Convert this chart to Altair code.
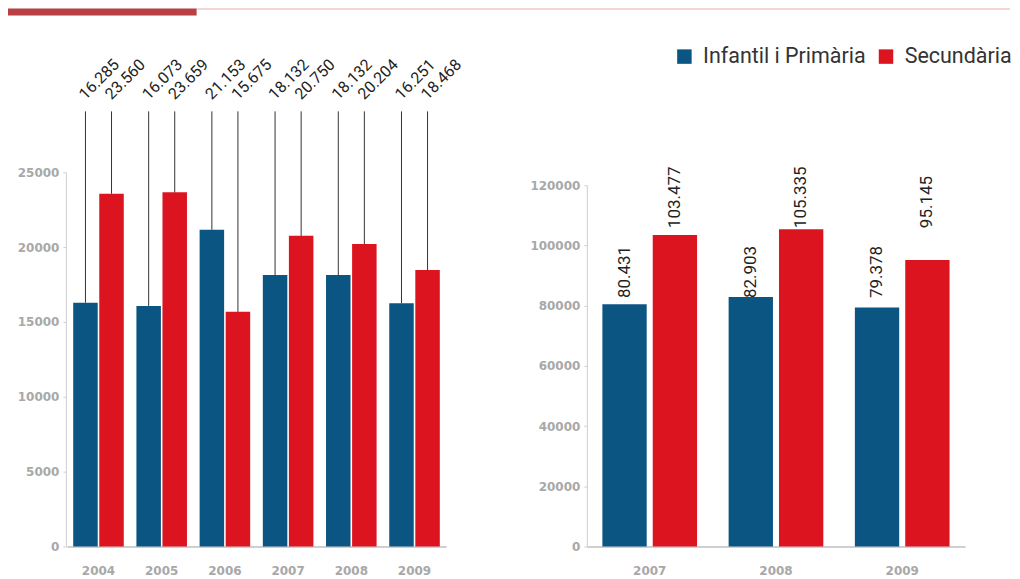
import altair as alt
import pandas as pd

# ---- data ----
series = ["Infantil i Primària", "Secundària"]
years_a = ["2004", "2005", "2006", "2007", "2008", "2009"]
infantil_a = [16285, 16073, 21153, 18132, 18132, 16251]
secundaria_a = [23560, 23659, 15675, 20750, 20204, 18468]

years_b = ["2007", "2008", "2009"]
infantil_b = [80431, 82903, 79378]
secundaria_b = [103477, 105335, 95145]

yticks_a = [0, 5000, 10000, 15000, 20000, 25000]
yticks_b = [0, 20000, 40000, 60000, 80000, 100000, 120000]

BLUE = "#0b5583"
RED = "#dc1420"
FONT = "Roboto"


def fmt(v):
    return f"{v:,}".replace(",", ".")


def table(years, a, b):
    rows = []
    for y, va, vb in zip(years, a, b):
        rows.append({"year": y, "serie": series[0], "value": va, "label": fmt(va)})
        rows.append({"year": y, "serie": series[1], "value": vb, "label": fmt(vb)})
    return pd.DataFrame(rows)


df_a = table(years_a, infantil_a, secundaria_a)
df_b = table(years_b, infantil_b, secundaria_b)

color = alt.Color(
    "serie:N",
    scale=alt.Scale(domain=series, range=[BLUE, RED]),
    legend=alt.Legend(
        title=None, orient="none", legendX=667, legendY=37, direction="horizontal",
        symbolType="square", symbolSize=210, symbolStrokeWidth=0, symbolOpacity=1,
        labelFont=FONT, labelFontSize=21.5, labelColor="#333333", labelOffset=8,
        columnPadding=9, padding=0, labelLimit=300,
    ),
)

axis_y_common = dict(
    title=None, labelColor="#a8a8a8", labelFont="DejaVu Sans", labelFontSize=12,
    labelFontWeight="bold", domainColor="#d0d0d0", tickColor="#d0d0d0", tickSize=3,
    labelPadding=4, grid=False, orient="left", format="d",
)
axis_x_common = dict(
    title=None, labelColor="#a8a8a8", labelFont="DejaVu Sans", labelFontSize=12,
    labelFontWeight="bold", domainColor="#a0a0a0", ticks=False, labelPadding=19,
    labelAngle=0, grid=False, orient="bottom",
)

# ---- left chart ----
xa = alt.X("year:N", sort=years_a,
           scale=alt.Scale(range=[59, 439], paddingInner=0.2, paddingOuter=0.1),
           axis=alt.Axis(**axis_x_common))
ya = alt.Y("value:Q", scale=alt.Scale(domain=[0, 25000], range=[539, 164], nice=False),
           axis=alt.Axis(values=yticks_a, offset=-58, **axis_y_common))
xoa = alt.XOffset("serie:N", sort=series, scale=alt.Scale(paddingInner=0.06))

base_a = alt.Chart(df_a)
bars_a = base_a.mark_bar().encode(x=xa, xOffset=xoa, y=ya, color=color)
rules_a = base_a.mark_rule(color="#333333", strokeWidth=1).encode(
    x=xa, xOffset=xoa, y=ya, y2=alt.value(103))
text_a = base_a.mark_text(angle=315, align="left", baseline="alphabetic",
                          font=FONT, fontSize=16, color="#222222").encode(
    x=xa, xOffset=xoa, y=alt.value(92), text="label:N")
left = alt.layer(bars_a, rules_a, text_a)

# ---- right chart ----
xb = alt.X("year:N", sort=years_b,
           scale=alt.Scale(range=[580, 959], paddingInner=0.25, paddingOuter=0.123),
           axis=alt.Axis(**axis_x_common))
yb = alt.Y("value:Q", scale=alt.Scale(domain=[0, 120000], range=[539, 177], nice=False),
           axis=alt.Axis(values=yticks_b, offset=-580, **axis_y_common))
xob = alt.XOffset("serie:N", sort=series, scale=alt.Scale(paddingInner=0.12))

base_b = alt.Chart(df_b)
bars_b = base_b.mark_bar().encode(x=xb, xOffset=xob, y=yb, color=color)
text_b1 = base_b.transform_filter(alt.datum.serie == series[0]).mark_text(
    angle=270, align="left", baseline="middle", font=FONT, fontSize=17, color="#222222"
).encode(x=xb, xOffset=xob, y=alt.value(290), text="label:N")
text_b2 = base_b.transform_filter(alt.datum.serie == series[1]).mark_text(
    angle=270, align="left", baseline="middle", font=FONT, fontSize=17, color="#222222"
).encode(x=xb, xOffset=xob, y=alt.value(220), text="label:N")
right = alt.layer(bars_b, text_b1, text_b2)

# ---- header decoration ----
hdr = pd.DataFrame({"k": [0]})
header = alt.Chart(hdr).mark_rect(color="#b83f43").encode(
    x=alt.value(0), x2=alt.value(189), y=alt.value(0), y2=alt.value(7))
header_line = alt.Chart(hdr).mark_rect(color="#e9a9ab").encode(
    x=alt.value(189), x2=alt.value(1004), y=alt.value(0), y2=alt.value(1))

chart = alt.layer(header, header_line, left, right).resolve_scale(
    x="independent", y="independent", xOffset="independent"
).properties(
    width=1004, height=539, padding=0
).configure_view(stroke=None).configure_axis(labelFlush=False)

chart.save("out.html", embed_options={"renderer": "svg", "actions": False})
